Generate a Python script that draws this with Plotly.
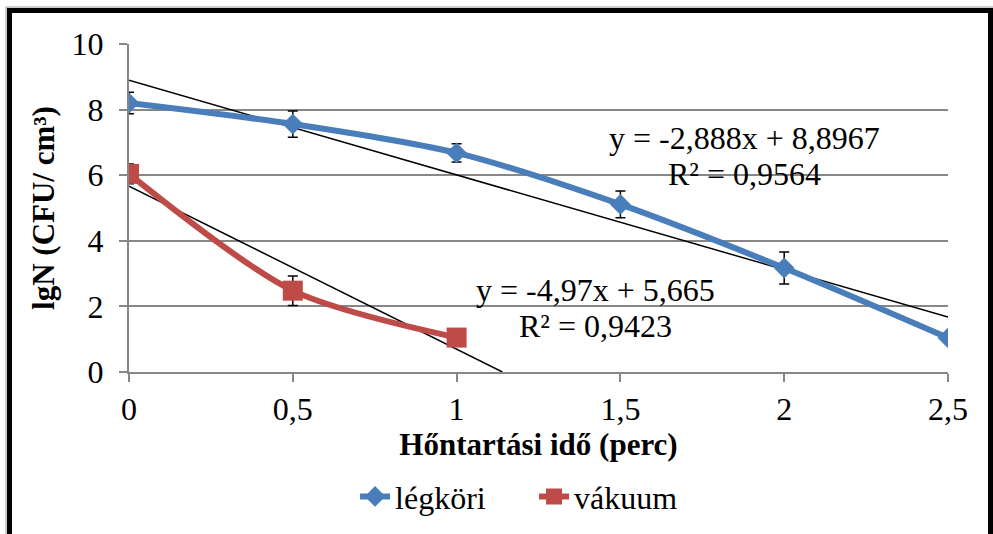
import plotly.graph_objects as go

# ---- data ----
x_vals = [0, 0.5, 1, 1.5, 2, 2.5]
legkori_y = [8.2, 7.56, 6.68, 5.11, 3.17, 1.04]
legkori_err = [0.33, 0.4, 0.28, 0.41, 0.49, 0.08]
vakuum_x = [0, 0.5, 1]
vakuum_y = [6.04, 2.48, 1.05]
vakuum_err = [0.3, 0.45, 0.08]

trend_legkori = (-2.888, 8.8967)
trend_vakuum = (-4.97, 5.665)
eq_legkori = ["y = -2,888x + 8,8967", "R² = 0,9564"]
eq_vakuum = ["y = -4,97x + 5,665", "R² = 0,9423"]

x_ticks = [0, 0.5, 1, 1.5, 2, 2.5]
x_ticktext = ["0", "0,5", "1", "1,5", "2", "2,5"]
y_ticks = [0, 2, 4, 6, 8, 10]

BLUE = "#4A7EBB"
RED = "#BE4B48"
GRID = "#878787"
FONT = "Liberation Serif, Times New Roman, serif"
FS = 32

fig = go.Figure()

# trendlines (from displayed equations), clipped at y=0 as in the original
def trend_pts(m, b, xmax):
    x_end = min(xmax, -b / m)
    return [0, x_end], [b, m * x_end + b]

tx, ty = trend_pts(*trend_legkori, 2.5)
fig.add_trace(go.Scatter(x=tx, y=ty, mode="lines", line=dict(color="black", width=1.5),
                         showlegend=False, hoverinfo="skip"))
tx, ty = trend_pts(*trend_vakuum, 2.5)
fig.add_trace(go.Scatter(x=tx, y=ty, mode="lines", line=dict(color="black", width=1.5),
                         showlegend=False, hoverinfo="skip"))

fig.add_trace(go.Scatter(
    x=x_vals, y=legkori_y, name="légköri", mode="lines+markers",
    line=dict(color=BLUE, width=6, shape="spline", smoothing=0.8),
    marker=dict(symbol="diamond", size=16, color=BLUE),
    error_y=dict(type="data", array=legkori_err, color="black", thickness=1.5, width=5),
))
fig.add_trace(go.Scatter(
    x=vakuum_x, y=vakuum_y, name="vákuum", mode="lines+markers",
    line=dict(color=RED, width=6, shape="spline", smoothing=0.8),
    marker=dict(symbol="square", size=20, color=RED),
    error_y=dict(type="data", array=vakuum_err, color="black", thickness=1.5, width=5),
))

# equation labels
ann_font = dict(size=FS, color="black", family=FONT)
fig.add_annotation(x=1.878, y=7.13, text=eq_legkori[0], showarrow=False, xref="x", yref="y", font=ann_font)
fig.add_annotation(x=1.878, y=6.03, text=eq_legkori[1], showarrow=False, xref="x", yref="y", font=ann_font)
fig.add_annotation(x=1.424, y=2.49, text=eq_vakuum[0], showarrow=False, xref="x", yref="y", font=ann_font)
fig.add_annotation(x=1.424, y=1.39, text=eq_vakuum[1], showarrow=False, xref="x", yref="y", font=ann_font)

# outer frame
fig.add_shape(type="rect", xref="paper", yref="paper",
              x0=-0.1459, x1=1.0519, y0=-0.55, y1=1.1021,
              line=dict(color="black", width=5), fillcolor="rgba(0,0,0,0)", layer="below")
fig.add_shape(type="rect", xref="paper", yref="paper",
              x0=-0.1502, x1=1.06, y0=-0.56, y1=1.1128,
              line=dict(color="#9a9a9a", width=1), fillcolor="rgba(0,0,0,0)", layer="below")

fig.update_layout(
    width=993, height=534,
    margin=dict(l=129, r=45, t=44, b=162, autoexpand=False),
    paper_bgcolor="white", plot_bgcolor="white",
    font=dict(family=FONT, color="black", size=FS),
    separators=",.",
    showlegend=True,
    legend=dict(orientation="h", x=0.276, xanchor="left", y=-0.38, yanchor="middle",
                font=dict(size=FS, family=FONT), tracegroupgap=0,
                entrywidth=134, entrywidthmode="pixels"),
    xaxis=dict(
        range=[0, 2.5], tickvals=x_ticks, ticktext=x_ticktext,
        showgrid=False, zeroline=False,
        showline=True, linecolor=GRID, linewidth=2,
        ticks="outside", ticklen=8, tickcolor=GRID, tickwidth=2,
        tickfont=dict(size=FS, family=FONT),
        title=dict(text="<b>Hőntartási idő (perc)</b>", font=dict(size=31, family=FONT), standoff=6),
        fixedrange=True,
    ),
    yaxis=dict(
        range=[0, 10], tickvals=y_ticks,
        showgrid=True, gridcolor=GRID, gridwidth=2, zeroline=False,
        showline=True, linecolor=GRID, linewidth=2,
        ticks="outside", ticklen=8, tickcolor=GRID, tickwidth=2,
        ticklabelstandoff=9,
        tickfont=dict(size=FS, family=FONT),
        title=dict(text="<b>lgN (CFU/ cm³)</b>", font=dict(size=31, family=FONT), standoff=8),
        fixedrange=True,
    ),
)

fig.write_html("out.html", config={"displayModeBar": False},
               post_script="document.body.style.margin='0px';")
